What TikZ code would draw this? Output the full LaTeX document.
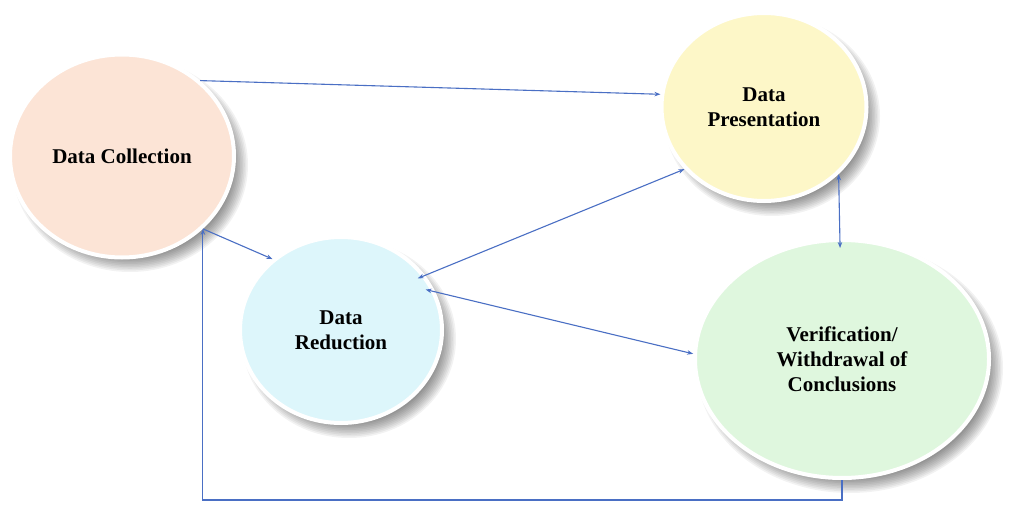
\documentclass[tikz,border=0pt]{standalone}
\usepackage{fontspec}
\setmainfont{Liberation Serif}
\usetikzlibrary{shapes.geometric,arrows.meta}
\definecolor{arrblue}{HTML}{4A6FC4}
\definecolor{cpeach}{HTML}{FCE4D6}
\definecolor{cyellow}{HTML}{FDF7C8}
\definecolor{ccyan}{HTML}{DDF6FB}
\definecolor{cgreen}{HTML}{DFF7DE}
\tikzset{
  bubble/.style={ellipse, draw=white, line width=4pt, align=center,
    font=\fontsize{21}{25}\selectfont\bfseries, text=black},
  shadelayer/.style={fill=black, opacity=0.05},
  arr/.style={draw=arrblue, line width=1.1pt, -{Stealth[length=6pt,width=4.5pt]}},
  darr/.style={draw=arrblue, line width=1.1pt, {Stealth[length=6pt,width=4.5pt]}-{Stealth[length=6pt,width=4.5pt]}}
}
\newcommand\softshadow[3]{%
  \foreach \i in {0,...,9}{
    \fill[shadelayer] ([shift={(8,9)}]#1) ellipse [x radius={#2+6-1.6*\i}, y radius={#3+6-1.6*\i}];
  }}
\begin{document}
\begin{tikzpicture}[x=1pt,y=-1pt]
\useasboundingbox[fill=white] (0,0) rectangle (1021,508);
\coordinate (cdc) at (122,156);
\coordinate (cdp) at (764,107);
\coordinate (cdr) at (341,330);
\coordinate (cdv) at (842,359);
\softshadow{cdc}{112}{101}
\softshadow{cdp}{102}{94}
\softshadow{cdr}{101}{93}
\softshadow{cdv}{147}{119}
\node[bubble, fill=cpeach, minimum width=224pt, minimum height=203pt] (dc) at (cdc) {Data Collection};
\node[bubble, fill=cyellow, minimum width=205pt, minimum height=188pt] (dp) at (cdp) {Data\\Presentation};
\node[bubble, fill=ccyan, minimum width=202pt, minimum height=186pt] (dr) at (cdr) {Data\\Reduction};
\node[bubble, fill=cgreen, minimum width=294pt, minimum height=238pt] (dv) at (cdv) {Verification/\\Withdrawal of\\Conclusions};
\draw[arr] (dc.44) -- (dp.173);
\draw[arr] (dc.-42) -- (dr.134);
\draw[darr, shorten <=-8pt] (dr.33) -- (dp.218);
\draw[darr, shorten <=-10pt] (dr.22) -- (dv.178);
\draw[darr, shorten >=-10pt] (dp.-42) -- (dv.91);
\draw[arr] (dv.south) -- ++(0,20) -| (dc.-42);
\end{tikzpicture}
\end{document}
